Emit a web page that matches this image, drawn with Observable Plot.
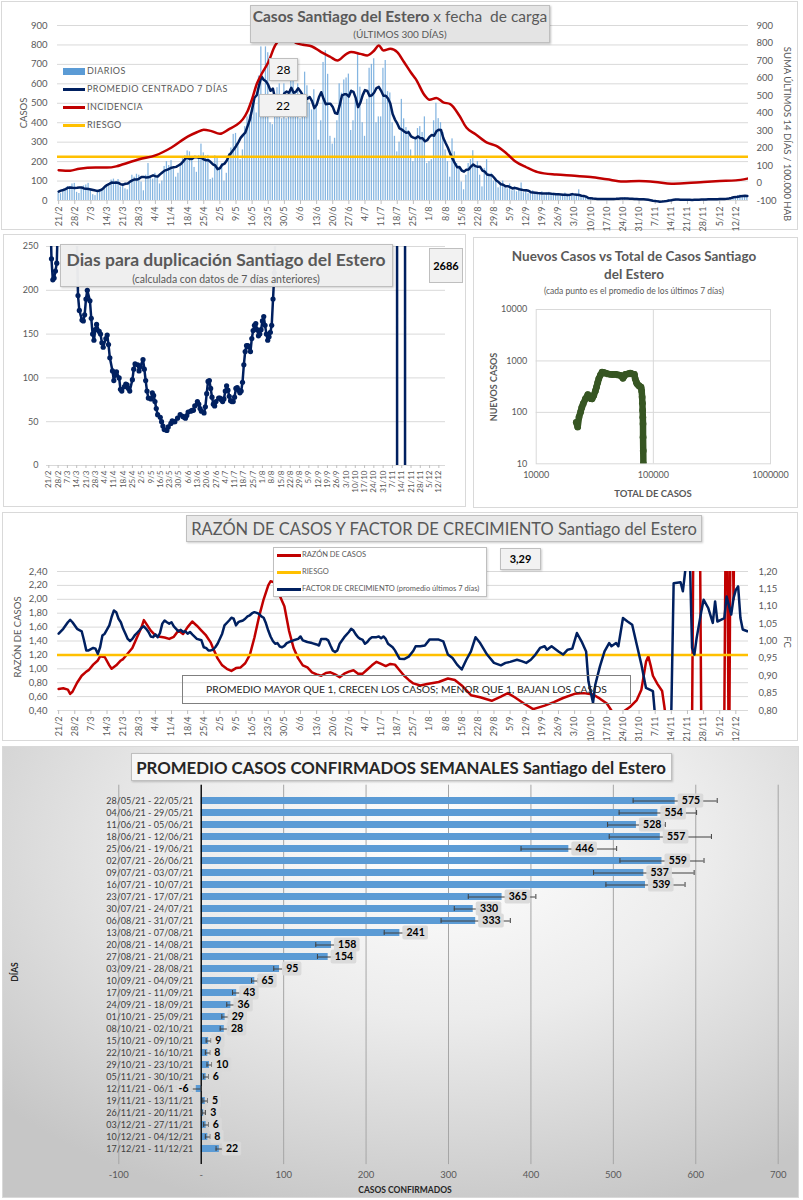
<!DOCTYPE html>
<html><head><meta charset="utf-8">
<script src="https://cdn.jsdelivr.net/npm/d3@7"></script>
<script src="https://cdn.jsdelivr.net/npm/@observablehq/plot@0.6"></script>
<style>
body{margin:0;background:#fff;font-family:Lato,"Open Sans",sans-serif;}
#root{position:relative;width:803px;height:1200px;overflow:hidden;background:#fff;}
</style></head><body><div id="root"></div>
<script>
// ---------------- DATA ----------------
const tickLabels = ["21/2","28/2","7/3","14/3","21/3","28/3","4/4","11/4","18/4","25/4","2/5","9/5","16/5","23/5","30/5","6/6","13/6","20/6","27/6","4/7","11/7","18/7","25/7","1/8","8/8","15/8","22/8","29/8","5/9","12/9","19/9","26/9","3/10","10/10","17/10","24/10","31/10","7/11","14/11","21/11","28/11","5/12","12/12"];

// daily cases, one value per day from 21/2 (index 0) to 17/12 (index 299)
const diarios = [
38,35,48,62,72,70,85, 88,42,36,60,75,80,88, 55,30,25,45,55,60,72, 80,75,105,110,95,108,70,
85,60,55,95,130,120,135, 130,95,50,130,190,120,110, 140,130,85,100,175,200,180, 205,160,120,140,190,215,230,
255,250,225,170,145,230,290, 245,230,232,108,115,230,225, 160,190,100,140,240,270,340, 345,290,210,260,380,430,440,
430,520,450,640,790,520,
790,760,400,390,510,580,600, 420,600,420,540,700,640,558, 600,420,460,660,590,500,466, 570,480,310,410,710,770,649,
330,290,320,410,600,552,620, 630,650,360,410,520,760,583, 400,330,520,680,700,729,400, 430,430,680,720,560,553,400,
330,250,300,520,420,375,360, 260,200,320,370,380,350,430, 190,200,210,410,500,421,400, 350,260,200,120,317,250,190,
170,95,55,130,190,210,256, 180,200,130,70,165,210,123, 140,100,110,65,80,100,70, 60,85,50,70,45,55,90,
40,55,35,45,50,36,40, 30,45,25,38,42,35,37, 28,35,22,30,38,25,25, 35,22,30,55,20,18,16,
12,8,10,7,9,8,9, 6,9,10,7,8,9,7, 8,12,15,9,10,8,8, 5,7,6,8,5,6,5,
0,-5,-8,-10,-6,-7,-6, 3,6,5,7,4,5,5, 2,3,4,3,3,4,2, 5,6,7,6,5,7,6,
7,9,8,6,10,8,8, 15,20,25,28,18,24,24];

// incidence (sum last 14 days / 100.000 hab) [day, value]
const incidencia = [[0,73],[5,70],[9,82],[16,88],[21,88],[25,95],[28,107],[35,136],[42,158],[49,203],[56,265],[60,290],[63,305],[66,298],[70,281],[74,308],[77,330],[80,365],[82,410],[84,480],[86,566],[88,620],[91,690],[94,786],[97,830],[100,842],[103,800],[106,790],[110,780],[114,748],[118,720],[121,700],[125,738],[127,748],[131,738],[134,729],[137,757],[139,786],[141,757],[144,767],[147,748],[150,690],[153,630],[155,595],[159,499],[161,476],[164,486],[167,461],[170,451],[174,384],[177,317],[181,279],[186,231],[190,212],[194,174],[198,126],[203,90],[208,62],[216,48],[224,42],[231,34],[238,21],[245,8],[252,11],[259,6],[266,-4],[273,0],[280,6],[287,11],[294,15],[299,25]];
const riesgoIncidencia = 150;

// doubling days [day, value]
const duplicacion = [[0,400],[1,300],[2,236],[3,212],[4,214],[5,222],[6,231],[7,290],[10,330],[14,310],[18,290],[21,270],[22,194],[23,177],[25,166],[26,165],[27,172],[28,190],[29,200],[31,188],[32,168],[33,150],[34,143],[35,155],[36,161],[38,153],[39,150],[40,140],[41,135],[43,145],[44,149],[45,138],[46,123],[48,108],[49,97],[50,103],[51,107],[53,100],[54,87],[55,85],[57,90],[58,93],[59,92],[60,88],[61,85],[63,98],[64,110],[65,116],[67,115],[68,108],[69,113],[71,121],[72,110],[73,97],[74,85],[75,77],[77,76],[78,83],[79,80],[80,73],[81,65],[82,58],[84,55],[85,50],[86,45],[87,41],[89,40],[90,44],[92,48],[93,51],[94,50],[95,50],[97,54],[99,58],[101,56],[102,55],[103,54],[104,57],[105,61],[107,62],[108,63],[109,63],[110,68],[112,73],[113,70],[114,65],[115,62],[117,60],[118,67],[119,82],[120,96],[121,97],[122,88],[123,78],[124,70],[125,68],[126,73],[128,77],[129,77],[130,75],[131,73],[132,76],[133,85],[134,91],[135,86],[136,79],[137,74],[138,73],[139,73],[140,78],[141,88],[142,89],[143,86],[144,83],[145,85],[146,95],[147,115],[148,130],[149,137],[150,137],[151,135],[152,130],[153,145],[154,154],[155,160],[156,162],[157,155],[158,148],[159,150],[160,155],[161,165],[162,170],[163,160],[164,150],[165,143],[166,147],[167,152],[168,160],[169,190],[170,220],[171,280],[175,350],[180,420],[190,600],[200,850],[210,1200],[220,1700],[230,2600],[240,3500],[250,5000],[260,8000],[262,9500],[263,-9000],[268,-9000],[269,9000],[280,6000],[290,3500],[299,2686]];
const duplicacionFinal = "2686";

// new cases vs total cases [total, new]
const nuevosVsTotal = [[22000,64],[22600,52],[23200,81],[23900,101],[24500,125],[25200,147],[26300,183],[27600,222],[28600,204],[29300,185],[30000,183],[31000,213],[32000,260],[32700,309],[33500,380],[34200,449],[35300,530],[36500,603],[38000,590],[39000,578],[41000,560],[43000,550],[45000,545],[47500,550],[50000,535],[52500,521],[55000,462],[56500,510],[57800,550],[60500,560],[63500,578],[66000,560],[68900,550],[70000,449],[71500,390],[72500,359],[74800,333],[76500,320],[78500,309],[79500,260],[80200,198],[80700,150],[81000,109],[81300,80],[81600,60],[81700,33],[82000,18],[82200,10]];

// ratio of cases [day, value]
const razon = [[0,0.71],[2,0.72],[4,0.70],[5,0.64],[6,0.67],[8,0.80],[10,0.90],[12,0.96],[13,0.98],[15,1.06],[17,1.12],[18,1.18],[20,1.17],[22,1.05],[23,1.00],[25,1.05],[27,1.12],[28,1.14],[30,1.22],[32,1.30],[34,1.45],[36,1.60],[37,1.70],[38,1.65],[40,1.55],[42,1.48],[44,1.46],[46,1.45],[48,1.43],[50,1.46],[52,1.55],[54,1.50],[56,1.60],[58,1.68],[60,1.62],[62,1.55],[64,1.48],[66,1.38],[67,1.30],[69,1.15],[71,1.05],[73,1.00],[75,0.97],[77,1.01],[79,1.02],[81,1.08],[83,1.20],[85,1.45],[87,1.75],[89,2.00],[91,2.20],[92,2.26],[94,2.24],[96,2.05],[98,1.90],[100,1.55],[102,1.30],[104,1.15],[106,1.05],[108,1.02],[110,0.95],[112,0.92],[114,0.90],[116,0.94],[118,0.95],[120,0.92],[122,0.88],[124,0.93],[126,0.96],[128,0.98],[130,0.93],[132,0.93],[134,0.99],[136,1.05],[138,1.10],[140,1.07],[142,1.04],[144,1.07],[146,1.06],[148,0.98],[150,0.90],[152,0.84],[154,0.79],[157,0.76],[160,0.78],[165,0.81],[169,0.86],[172,0.84],[175,0.76],[179,0.62],[183,0.59],[188,0.54],[192,0.60],[195,0.65],[198,0.59],[202,0.50],[206,0.42],[211,0.47],[215,0.52],[219,0.58],[224,0.64],[228,0.65],[232,0.63],[235,0.57],[238,0.50],[240,0.40],[242,0.30],[245,0.38],[248,0.45],[251,0.55],[253,0.70],[254,0.90],[255,1.10],[256,1.18],[257,1.05],[258,0.90],[260,0.78],[262,0.68],[263,0.45],[264,0.20],[275,0.20],[276,5],[278,5],[279,0.20],[289,0.30],[290,5],[291,-1],[292,5],[293,2.0],[294,5],[299,5]];
const riesgoRazon = 1.2;
const razonFinal = "3,29";

// growth factor (7-day mean) [day, value]
const factorCrecimiento = [[0,1.021],[2,1.035],[4,1.054],[5,1.061],[6,1.054],[8,1.035],[10,1.028],[11,1.002],[12,0.973],[13,0.973],[15,0.980],[16,0.978],[17,0.963],[18,0.982],[19,1.016],[20,1.021],[22,1.045],[23,1.069],[24,1.088],[25,1.083],[26,1.064],[27,1.054],[28,1.035],[29,1.021],[30,1.006],[31,1.000],[32,1.006],[33,1.016],[34,1.023],[35,1.030],[36,1.038],[37,1.042],[38,1.035],[39,1.026],[40,1.013],[41,1.011],[42,1.019],[43,1.011],[44,1.023],[45,1.050],[46,1.059],[47,1.054],[48,1.050],[49,1.054],[50,1.042],[51,1.035],[52,1.028],[53,1.032],[54,1.026],[55,1.028],[56,1.021],[57,1.026],[58,1.019],[60,1.006],[62,1.002],[63,0.982],[64,0.980],[65,0.973],[66,0.973],[67,0.975],[68,0.982],[69,0.992],[71,1.021],[72,1.045],[74,1.059],[75,1.067],[76,1.064],[77,1.045],[78,1.054],[79,1.057],[80,1.059],[81,1.064],[82,1.071],[83,1.074],[84,1.080],[85,1.083],[86,1.081],[87,1.078],[88,1.071],[89,1.067],[90,1.051],[91,1.030],[92,1.013],[93,1.000],[94,0.992],[95,0.994],[96,0.984],[97,0.982],[98,0.986],[99,0.994],[100,0.997],[102,1.002],[104,1.006],[105,1.013],[106,1.002],[108,0.997],[110,0.994],[112,0.990],[113,0.987],[114,1.006],[116,1.006],[117,1.002],[118,0.987],[119,0.973],[120,0.968],[121,0.973],[122,0.992],[124,1.011],[126,1.026],[127,1.035],[128,1.030],[129,1.019],[130,1.011],[131,1.006],[132,1.003],[133,0.992],[134,0.997],[135,1.006],[136,1.011],[138,1.011],[139,1.013],[140,1.008],[141,1.013],[142,1.006],[143,0.992],[144,0.987],[145,0.982],[146,0.973],[147,0.961],[148,0.949],[150,0.948],[152,0.955],[154,0.972],[155,0.985],[157,0.985],[159,0.987],[161,1.004],[163,1.004],[165,1.004],[167,0.999],[169,0.961],[171,0.951],[173,0.932],[175,0.918],[177,0.946],[179,0.970],[181,1.011],[183,0.994],[186,0.961],[189,0.937],[192,0.930],[194,0.937],[196,0.940],[199,0.946],[201,0.942],[203,0.937],[205,0.946],[207,0.961],[209,0.980],[211,0.985],[212,0.975],[214,0.985],[217,0.970],[219,0.961],[221,0.975],[223,0.978],[225,1.023],[227,0.999],[229,0.970],[230,0.884],[232,0.822],[233,0.875],[235,0.927],[237,0.970],[239,0.994],[240,0.985],[242,0.994],[243,0.985],[245,1.066],[247,1.056],[249,1.047],[251,0.989],[253,0.932],[255,0.865],[258,0.856],[259,0.780],[262,0.60],[265,0.60],[266,0.80],[267,1.166],[270,1.169],[271,1.143],[272,1.20],[273,1.30],[274,1.25],[275,0.980],[276,0.961],[277,1.009],[279,1.085],[280,1.119],[282,1.095],[284,1.052],[285,1.114],[286,1.056],[289,1.066],[290,1.128],[292,1.076],[293,1.123],[294,1.147],[295,1.157],[296,1.066],[297,1.033],[299,1.028]];

// weekly average of confirmed cases
const semanas = ["28/05/21 - 22/05/21","04/06/21 - 29/05/21","11/06/21 - 05/06/21","18/06/21 - 12/06/21","25/06/21 - 19/06/21","02/07/21 - 26/06/21","09/07/21 - 03/07/21","16/07/21 - 10/07/21","23/07/21 - 17/07/21","30/07/21 - 24/07/21","06/08/21 - 31/07/21","13/08/21 - 07/08/21","20/08/21 - 14/08/21","27/08/21 - 21/08/21","03/09/21 - 28/08/21","10/09/21 - 04/09/21","17/09/21 - 11/09/21","24/09/21 - 18/09/21","01/10/21 - 25/09/21","08/10/21 - 02/10/21","15/10/21 - 09/10/21","22/10/21 - 16/10/21","29/10/21 - 23/10/21","05/11/21 - 30/10/21","12/11/21 - 06/11/21","19/11/21 - 13/11/21","26/11/21 - 20/11/21","03/12/21 - 27/11/21","10/12/21 - 04/12/21","17/12/21 - 11/12/21"];
const promedioSemanal = [575,554,528,557,446,559,537,539,365,330,333,241,158,154,95,65,43,36,29,28,9,8,10,6,-6,5,3,6,8,22];
const errorSemanal = [51,47,35,62,58,51,61,48,41,23,42,19,19,13,7,4,5,5,4,5,3,3,3,3,6,3,2,3,3,4];

// ---------------- HELPERS ----------------
const root = document.getElementById("root");
const FONT = "Lato, 'Open Sans', sans-serif";
const GRAY = "#595959";
const NAVY = "#002060", RED = "#c00000", ORANGE = "#ffc000", BLUE = "#5b9bd5";
function div(left, top, w, h, css, html) {
  const d = document.createElement("div");
  d.style.cssText = `position:absolute;left:${left}px;top:${top}px;${w!=null?`width:${w}px;`:""}${h!=null?`height:${h}px;`:""}box-sizing:border-box;${css||""}`;
  if (html != null) d.innerHTML = html;
  root.appendChild(d);
  return d;
}
function label(text, cx, cy, css, rot) {
  const d = document.createElement("div");
  d.textContent = text;
  d.style.cssText = `position:absolute;left:${cx}px;top:${cy}px;transform:translate(-50%,-50%)${rot?` rotate(${rot}deg)`:""};white-space:nowrap;font-family:${FONT};${css||""}`;
  root.appendChild(d);
  return d;
}
function put(svg, left, top) {
  svg.style.position = "absolute";
  svg.style.left = left + "px";
  svg.style.top = top + "px";
  svg.style.background = "transparent";
  svg.style.overflow = "visible";
  root.appendChild(svg);
}
const st = (fs) => ({background: "transparent", color: GRAY, fontFamily: FONT, fontSize: fs});
const ticks7 = d3.range(0, 295, 7);
const fmtTick = d => tickLabels[Math.round(d / 7)];
const comma2 = d => d.toFixed(2).replace(".", ",");
const P = {x: d => d[0], y: d => d[1]};

// ---------------- PANEL BORDERS ----------------
div(1, 1, 797, 229, "border:1px solid #d9d9d9;");
div(3, 234, 463, 273, "border:1px solid #d9d9d9;");
div(473, 237, 325, 271, "border:1px solid #d9d9d9;");
div(2, 512, 796, 229, "border:1px solid #d9d9d9;");
div(2, 746, 797, 452, "border:1px solid #d9d9d9;background:radial-gradient(ellipse 75% 85% at 55% 22%, #ffffff 0%, #ececec 45%, #c6c6c6 100%);");

// ---------------- PANEL 1: daily cases ----------------
const diariosData = diarios.map((v, i) => ({i, v}));
const top1 = Plot.plot({
  width: 803, height: 232, marginLeft: 57, marginRight: 55, marginTop: 25, marginBottom: 32,
  x: {domain: [-0.5, 299.5]}, y: {domain: [0, 900]},
  style: st("9.5px"),
  marks: [
    Plot.gridY({ticks: d3.range(100, 901, 100), stroke: "#d9d9d9", strokeOpacity: 1}),
    Plot.rectY(diariosData, {x1: d => d.i - 0.27, x2: d => d.i + 0.27, y1: 0, y2: "v", fill: "#6fa8dc", fillOpacity: 0.85, clip: true}),
    Plot.ruleY([0], {stroke: "#d9d9d9"}),
    Plot.axisY({ticks: d3.range(0, 901, 100), tickSize: 0, tickPadding: 10, label: null, tickFormat: d => String(d)}),
    Plot.axisX({ticks: ticks7, tickFormat: fmtTick, tickRotate: -90, tickSize: 4, tickPadding: 2, label: null, fontSize: 9, stroke: "#bfbfbf"}),
    Plot.lineY(diariosData, Plot.windowY(7, {x: "i", y: "v", stroke: NAVY, strokeWidth: 2.5}))
  ]
});
put(top1, 0, 0);
const top2 = Plot.plot({
  width: 803, height: 232, marginLeft: 57, marginRight: 55, marginTop: 25, marginBottom: 32,
  x: {domain: [-0.5, 299.5], axis: null}, y: {domain: [-100, 900]},
  style: st("9.5px"),
  marks: [
    Plot.ruleY([riesgoIncidencia], {stroke: ORANGE, strokeWidth: 2.5}),
    Plot.line(incidencia, {...P, stroke: RED, strokeWidth: 2.5, curve: "monotone-x", clip: true}),
    Plot.axisY({anchor: "right", ticks: d3.range(-100, 901, 100), tickSize: 0, tickPadding: 8, label: null, tickFormat: d => String(d)})
  ]
});
put(top2, 0, 0);
label("CASOS", 23, 113, `font-size:9.5px;color:${GRAY};`, -90);
label("SUMA  ÚLTIMOS 14 DÍAS / 100.000 HAB", 787, 134, `font-size:9.5px;color:${GRAY};`, 90);
div(250, 5, 300, 38, "background:#e4e4e4;border:1px solid #bfbfbf;box-shadow:1px 1px 2px rgba(0,0,0,.25);");
label("", 400, 16).innerHTML = `<span style="font-weight:700">Casos Santiago del Estero</span> x fecha&nbsp; de carga`;
root.lastChild.style.cssText += `font-size:15.5px;color:${GRAY};`;
label("(ÚLTIMOS 300 DÍAS)", 400, 34, `font-size:10px;color:${GRAY};`);
// legend
[["DIARIOS", "bar", BLUE, 71], ["PROMEDIO CENTRADO 7 DÍAS", "line", NAVY, 89], ["INCIDENCIA", "line", RED, 107], ["RIESGO", "line", ORANGE, 125]].forEach(([t, k, c, y]) => {
  const h = k === "bar" ? 7 : 3;
  div(63, y - h / 2, 22, h, `background:${c};`);
  div(87, y - 7, null, 14, `font-family:${FONT};font-size:9px;letter-spacing:.45px;color:${GRAY};line-height:14px;white-space:nowrap;`, t);
});
div(269, 58, 29, 23, `background:#f2f2f2;border:1px solid #bfbfbf;box-shadow:1px 1px 2px rgba(0,0,0,.2);font-family:${FONT};font-size:12px;line-height:21px;text-align:center;color:#000;`, "28");
div(259, 94, 48, 23, `background:#f2f2f2;border:1px solid #bfbfbf;box-shadow:1px 1px 2px rgba(0,0,0,.2);font-family:${FONT};font-size:12px;line-height:21px;text-align:center;color:#000;`, "22");

// ---------------- PANEL 2: doubling days ----------------
const dup = Plot.plot({
  width: 470, height: 278, marginLeft: 46, marginRight: 25, marginTop: 14, marginBottom: 45,
  x: {domain: [-1.75, 299]}, y: {domain: [0, 250]},
  style: st("9px"),
  marks: [
    Plot.gridY({ticks: [50, 100, 150, 200, 250], stroke: "#d9d9d9", strokeOpacity: 1}),
    Plot.ruleY([0], {stroke: "#d9d9d9"}),
    Plot.axisY({ticks: d3.range(0, 251, 50), tickSize: 0, tickPadding: 8, label: null}),
    Plot.axisX({ticks: ticks7, tickFormat: fmtTick, tickRotate: -90, tickSize: 3, tickPadding: 2, label: null, fontSize: 8, stroke: "#bfbfbf"}),
    Plot.line(duplicacion, {...P, stroke: NAVY, strokeWidth: 2.5, clip: true}),
    Plot.dot(duplicacion, {...P, fill: NAVY, r: 2.6, clip: true})
  ]
});
put(dup, 0, 232);
div(60, 244, 333, 43, "background:rgba(238,238,238,0.97);border:1px solid #bfbfbf;box-shadow:1px 1px 2px rgba(0,0,0,.2);");
label("Dias para duplicación Santiago del Estero", 226, 259, `font-size:17.5px;font-weight:700;color:${GRAY};`);
label("(calculada con datos de 7 días anteriores)", 226, 279, `font-size:10.5px;color:${GRAY};`);
div(429, 248, 34, 35, `background:#f2f2f2;border:1px solid #bfbfbf;font-family:${FONT};font-size:11px;font-weight:700;line-height:33px;text-align:center;color:#000;`, duplicacionFinal);

// ---------------- PANEL 3: new vs total (log-log) ----------------
const sc = Plot.plot({
  width: 333, height: 278, marginLeft: 65.7, marginRight: 33, marginTop: 77, marginBottom: 46.7,
  x: {type: "log", domain: [1e4, 1e6]}, y: {type: "log", domain: [10, 1e4]},
  style: st("9px"),
  marks: [
    Plot.gridX({ticks: [1e5], stroke: "#d9d9d9", strokeOpacity: 1}),
    Plot.gridY({ticks: [100, 1000], stroke: "#d9d9d9", strokeOpacity: 1}),
    Plot.frame({stroke: "#d9d9d9"}),
    Plot.axisX({ticks: [1e4, 1e5, 1e6], tickFormat: d => String(d), tickSize: 0, tickPadding: 8, label: null}),
    Plot.axisY({ticks: [10, 100, 1000, 10000], tickFormat: d => String(d), tickSize: 0, tickPadding: 9, label: null}),
    Plot.line(nuevosVsTotal, {...P, stroke: "#375623", strokeWidth: 6.5, strokeLinecap: "round", strokeLinejoin: "round", clip: true}),
    Plot.dot(nuevosVsTotal, {...P, fill: "#375623", r: 3.4, clip: true})
  ]
});
put(sc, 470, 232);
label("Nuevos Casos vs Total de Casos Santiago", 634, 256, `font-size:13.5px;font-weight:700;color:${GRAY};`);
label("del Estero", 634, 274, `font-size:13.5px;font-weight:700;color:${GRAY};`);
label("(cada punto es el promedio de los últimos 7 días)", 634, 291, `font-size:8.5px;color:${GRAY};`);
label("NUEVOS  CASOS", 493, 387, `font-size:9px;font-weight:700;color:${GRAY};`, -90);
label("TOTAL DE CASOS", 653, 493, `font-size:9.5px;font-weight:700;color:${GRAY};`);

// ---------------- PANEL 4: ratio & growth factor ----------------
const r1 = Plot.plot({
  width: 803, height: 232, marginLeft: 57, marginRight: 55, marginTop: 61, marginBottom: 32,
  x: {domain: [-0.5, 299.5]}, y: {domain: [0.4, 2.4]},
  style: st("9.5px"),
  marks: [
    Plot.gridY({ticks: d3.range(0.6, 2.41, 0.2), stroke: "#d9d9d9", strokeOpacity: 1}),
    Plot.ruleY([0.4], {stroke: "#d9d9d9"}),
    Plot.axisY({ticks: d3.range(0.4, 2.41, 0.2), tickFormat: comma2, tickSize: 0, tickPadding: 10, label: null}),
    Plot.axisX({ticks: ticks7, tickFormat: fmtTick, tickRotate: -90, tickSize: 4, tickPadding: 2, label: null, fontSize: 9, stroke: "#bfbfbf"}),
    Plot.line(razon, {...P, stroke: RED, strokeWidth: 2.5, clip: true}),
    Plot.ruleY([riesgoRazon], {stroke: ORANGE, strokeWidth: 2.5})
  ]
});
put(r1, 0, 510);
const r2 = Plot.plot({
  width: 803, height: 232, marginLeft: 57, marginRight: 55, marginTop: 61, marginBottom: 32,
  x: {domain: [-0.5, 299.5], axis: null}, y: {domain: [0.8, 1.2]},
  style: st("9.5px"),
  marks: [
    Plot.line(factorCrecimiento, {...P, stroke: NAVY, strokeWidth: 2.5, clip: true}),
    Plot.axisY({anchor: "right", ticks: d3.range(0.8, 1.2001, 0.05), tickFormat: comma2, tickSize: 0, tickPadding: 10, label: null})
  ]
});
put(r2, 0, 510);
label("RAZÓN  DE CASOS", 17, 637, `font-size:9.5px;color:${GRAY};`, -90);
label("FC", 787, 642, `font-size:9.5px;color:${GRAY};`, 90);
div(186, 515, 516, 27, "background:#e8e8e8;border:1px solid #bfbfbf;box-shadow:1px 1px 2px rgba(0,0,0,.2);");
label("RAZÓN DE CASOS Y FACTOR DE CRECIMIENTO Santiago del Estero", 444, 529, `font-size:16.5px;color:${GRAY};`);
div(273, 547, 214, 50, "background:#fff;border:1px solid #bfbfbf;box-shadow:1px 1px 2px rgba(0,0,0,.15);");
[["RAZÓN DE CASOS", RED, 555], ["RIESGO", ORANGE, 572], ["FACTOR DE CRECIMIENTO (promedio últimos 7 días)", NAVY, 589]].forEach(([t, c, y]) => {
  div(277, y - 1.5, 24, 3, `background:${c};`);
  div(302, y - 6, null, 12, `font-family:${FONT};font-size:7.5px;color:${GRAY};line-height:12px;white-space:nowrap;`, t);
});
div(500, 548, 41, 22, `background:#f2f2f2;border:1px solid #bfbfbf;box-shadow:1px 1px 2px rgba(0,0,0,.2);font-family:${FONT};font-size:11px;font-weight:700;line-height:20px;text-align:center;color:#000;`, razonFinal);
div(182, 675, 449, 29, `border:1px solid #7f7f7f;font-family:${FONT};font-size:10.3px;line-height:27px;text-align:center;color:#262626;white-space:nowrap;`, "PROMEDIO MAYOR QUE 1, CRECEN LOS CASOS; MENOR QUE 1, BAJAN LOS CASOS");

// ---------------- PANEL 5: weekly averages ----------------
const pxPerUnit = (777.7 - 118.3) / 800;
const sem = semanas.map((s, i) => {
  const v = promedioSemanal[i], e = errorSemanal[i], t = String(v);
  const w = (6.2 * t.length + 7) / pxPerUnit, gap = 3 / pxPerUnit;
  const x1 = v >= 0 ? v + gap : v - gap - w;
  return {s, v, e, t, x1, x2: x1 + w};
});
const bars = Plot.plot({
  width: 803, height: 455, marginLeft: 118.3, marginRight: 25.3, marginTop: 39.7, marginBottom: 35.9,
  x: {domain: [-100, 700]},
  y: {domain: semanas, paddingInner: 0.42, paddingOuter: 0.21, axis: null},
  style: st("9.5px"),
  marks: [
    Plot.gridX({ticks: d3.range(-100, 701, 100), stroke: "#a6a6a6", strokeOpacity: 1}),
    Plot.axisX({ticks: d3.range(-100, 701, 100), tickFormat: d => d === 0 ? "-" : String(d), tickSize: 0, tickPadding: 7, label: null}),
    Plot.barX(sem, {x1: 0, x2: "v", y: "s", fill: BLUE}),
    Plot.ruleX([0], {stroke: "#000", strokeWidth: 1.3}),
    Plot.ruleY(sem, {y: "s", x1: d => d.v - d.e, x2: d => d.v + d.e, stroke: "#404040", strokeWidth: 1}),
    Plot.tickX(sem, {y: "s", x: d => d.v - d.e, stroke: "#404040", strokeWidth: 1, insetTop: 1, insetBottom: 1}),
    Plot.tickX(sem, {y: "s", x: d => d.v + d.e, stroke: "#404040", strokeWidth: 1, insetTop: 1, insetBottom: 1}),
    Plot.text(semanas, {x: () => 0, y: d => d, dx: -8, textAnchor: "end", fill: "#404040", fontSize: 9}),
    Plot.barX(sem, {x1: "x1", x2: "x2", y: "s", fill: "#d9d9d9", fillOpacity: 0.95, insetTop: -3.4, insetBottom: -3.4, rx: 2}),
    Plot.text(sem, {x: d => (d.x1 + d.x2) / 2, y: "s", text: "t", fill: "#000", fontWeight: "bold", fontSize: 10.5})
  ]
});
put(bars, 0, 745);
div(131, 753, 541, 28, "background:#f7f7f7;border:1px solid #bfbfbf;box-shadow:1px 1px 2px rgba(0,0,0,.2);");
label("PROMEDIO CASOS CONFIRMADOS SEMANALES Santiago del Estero", 401, 767, `font-size:16.8px;font-weight:700;color:#262626;`);
label("CASOS CONFIRMADOS", 405, 1190, `font-size:8.5px;font-weight:700;color:#262626;`);
label("DÍAS", 15, 972, `font-size:8.5px;font-weight:700;color:#262626;`, -90);
</script></body></html>
